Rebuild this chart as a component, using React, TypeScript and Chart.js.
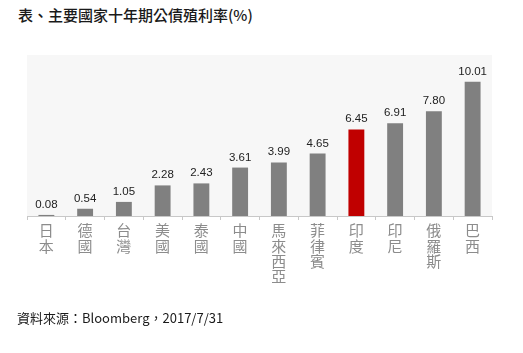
import React, { useEffect, useRef } from "react";
import { Chart, registerables } from "chart.js";

Chart.register(...registerables);

const titleText = "表、主要國家十年期公債殖利率(%)";
const sourceText = "資料來源：Bloomberg，2017/7/31";
const categories = ["日本", "德國", "台灣", "美國", "泰國", "中國", "馬來西亞", "菲律賓", "印度", "印尼", "俄羅斯", "巴西"];
const yields = [0.08, 0.54, 1.05, 2.28, 2.43, 3.61, 3.99, 4.65, 6.45, 6.91, 7.8, 10.01];
const highlightCategory = "印度";
const yMax = 12;

const plotBg = {
  id: "plotBg",
  beforeDraw(chart: any) {
    const { ctx, chartArea } = chart;
    ctx.save();
    ctx.fillStyle = "#f7f7f7";
    ctx.fillRect(chartArea.left, chartArea.top, chartArea.right - chartArea.left, chartArea.bottom - chartArea.top);
    ctx.restore();
  },
};

const valueLabels = {
  id: "valueLabels",
  afterDatasetsDraw(chart: any) {
    const { ctx } = chart;
    const meta = chart.getDatasetMeta(0);
    const data = chart.data.datasets[0].data as number[];
    ctx.save();
    ctx.font = "11.5px 'Liberation Sans', Arial, sans-serif";
    ctx.fillStyle = "#222222";
    ctx.textAlign = "center";
    ctx.textBaseline = "alphabetic";
    meta.data.forEach((bar: any, i: number) => {
      ctx.fillText(data[i].toFixed(2), bar.x, bar.y - 7);
    });
    ctx.restore();
  },
};

export default function App() {
  const ref = useRef<HTMLCanvasElement>(null);
  useEffect(() => {
    if (!ref.current) return;
    const chart = new Chart(ref.current, {
      type: "bar",
      data: {
        labels: categories.map((c) => c.split("")),
        datasets: [
          {
            data: yields,
            backgroundColor: categories.map((c) => (c === highlightCategory ? "#c00000" : "#808080")),
            barPercentage: 0.41,
            categoryPercentage: 1,
          },
        ],
      },
      options: {
        responsive: false,
        animation: false,
        devicePixelRatio: 1,
        layout: { padding: { left: 27, right: 31, top: 55, bottom: 0 } },
        plugins: { legend: { display: false }, tooltip: { enabled: false }, title: { display: false } },
        scales: {
          y: { display: false, min: 0, max: yMax },
          x: {
            afterFit: (scale: any) => {
              scale.height = 137;
            },
            border: { display: true, color: "#c8c8c8", width: 1 },
            grid: { drawOnChartArea: false, drawTicks: true, tickLength: 4, color: "#c8c8c8", offset: true },
            ticks: {
              maxRotation: 0,
              autoSkip: false,
              padding: 3,
              color: "#8c8c8c",
              font: { family: "'Noto Sans CJK TC', sans-serif", size: 15, lineHeight: 1.02 },
            },
          },
        },
      },
      plugins: [plotBg, valueLabels],
    });
    return () => chart.destroy();
  }, []);

  return (
    <div style={{ position: "fixed", left: 0, top: 0, width: 523, height: 353, background: "#ffffff", overflow: "hidden" }}>
      <div
        style={{
          position: "absolute",
          left: 18,
          top: 6,
          fontFamily: "'Noto Sans CJK TC', sans-serif",
          fontSize: 15,
          fontWeight: 500,
          color: "#1a1a1a",
          whiteSpace: "nowrap",
          lineHeight: "18px",
        }}
      >
        {titleText}
      </div>
      <canvas ref={ref} width={523} height={353} style={{ position: "absolute", left: 0, top: 0, width: 523, height: 353 }} />
      <div
        style={{
          position: "absolute",
          left: 17,
          top: 309,
          fontFamily: "'Noto Sans CJK TC', sans-serif",
          fontSize: 13,
          color: "#1a1a1a",
          whiteSpace: "nowrap",
          lineHeight: "18px",
        }}
      >
        {sourceText}
      </div>
    </div>
  );
}
